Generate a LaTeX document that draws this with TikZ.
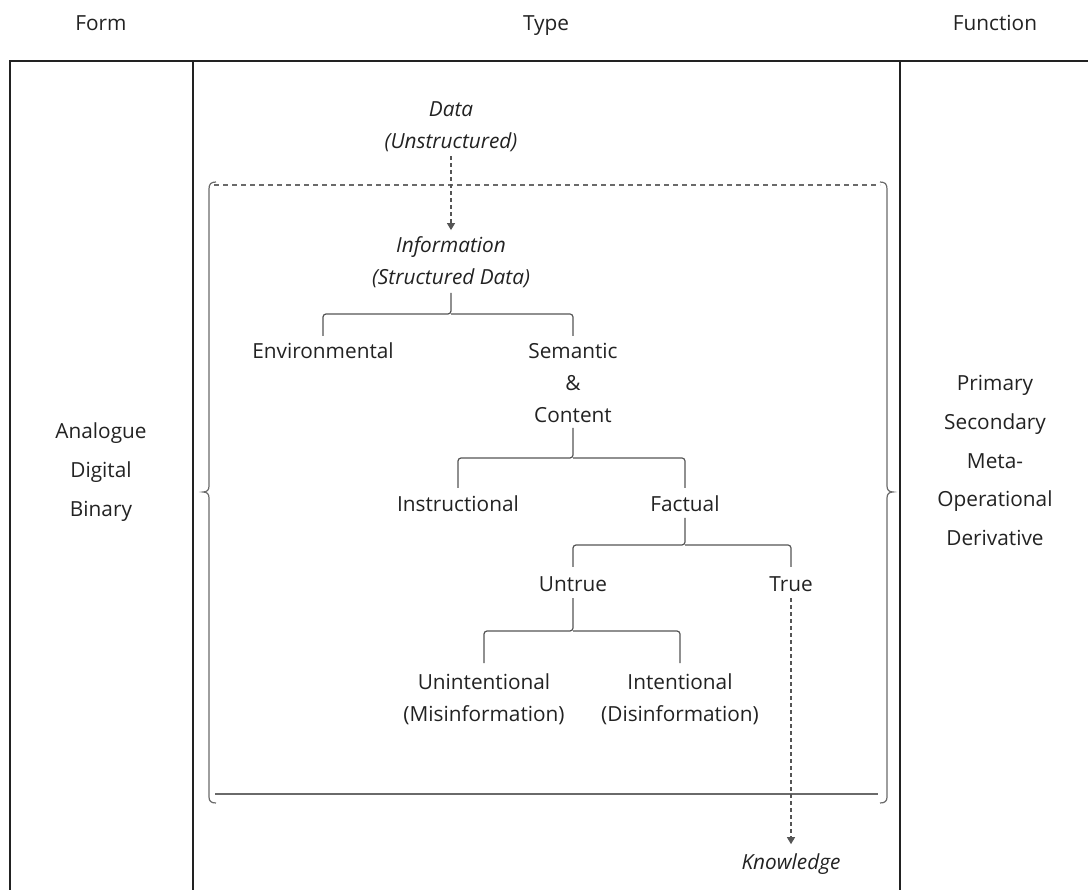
\documentclass[tikz,border=0pt]{standalone}
\usepackage{fontspec}
\setmainfont{Open Sans}
\usetikzlibrary{arrows.meta}
\definecolor{ink}{HTML}{222222}
\definecolor{wire}{HTML}{555555}
\definecolor{rim}{HTML}{6A6A6A}

\begin{document}
\begin{tikzpicture}[x=1pt,y=-1pt,
  every node/.style={inner sep=0pt, outer sep=0pt, anchor=base, align=center,
    text=ink, font=\fontsize{20.8}{32}\selectfont, yshift=-2pt},
  concept/.style={font=\fontsize{20.8}{32}\selectfont\itshape},
  frameline/.style={draw=ink, line width=2pt},
  branch/.style={draw=wire, line width=1.2pt, rounded corners=3pt},
  flow/.style={draw=wire, line width=1.2pt, dash pattern=on 4pt off 3pt,
    -{Triangle[length=7pt,width=8pt]}},
  scopeline/.style={draw=rim, line width=1.2pt},
  scopedash/.style={draw=rim, line width=1.2pt, dash pattern=on 5pt off 4pt},
]
\useasboundingbox (0,0) rectangle (1088,890);
\clip (0,0) rectangle (1088,890);

% column headings
\node (hform) at (101,29) {Form};
\node (htype) at (546,29) {Type};
\node (hfunc) at (995,29) {Function};

% table frame
\draw[frameline] (10,891) -- (10,61) -- (1090,61);
\draw[frameline] (193,61) -- (193,891);
\draw[frameline] (900,61) -- (900,891);

% form column
\node (analogue) at (101,437) {Analogue};
\node (digital)  at (101,476) {Digital};
\node (binary)   at (101,515) {Binary};

% function column
\node (primary)   at (995,389) {Primary};
\node (secondary) at (995,428) {Secondary};
\node (meta)      at (995,467) {Meta-};
\node (oper)      at (995,505) {Operational};
\node (deriv)     at (995,544) {Derivative};

% scope bracket around the information types
\draw[scopeline] (216,182) .. controls (211,182) and (209,184) .. (209,189)
  -- (209,486) .. controls (209,490) and (207,492) .. (203,492)
  .. controls (207,492) and (209,494) .. (209,498)
  -- (209,797) .. controls (209,801) and (211,803) .. (216,803);
\draw[scopeline] (880,182) .. controls (885,182) and (887,184) .. (887,189)
  -- (887,486) .. controls (887,490) and (889,492) .. (893,492)
  .. controls (889,492) and (887,494) .. (887,498)
  -- (887,797) .. controls (887,801) and (885,803) .. (880,803);
\draw[scopedash] (214,185) -- (880,185);
\draw[scopeline] (215,794) -- (878,794);

% type hierarchy (multi-line nodes sit on the baseline of their last line)
\node[concept] (data) at (451,147) {Data\\(Unstructured)};
\node[concept] (info) at (451,283) {Information\\(Structured Data)};
\node (env)   at (323,357) {Environmental};
\node (sem)   at (573,421) {Semantic\\\&\\Content};
\node (instr) at (458,510) {Instructional};
\node (fact)  at (685,510) {Factual};
\node (untrue) at (573,589) {Untrue};
\node (true)   at (791,589) {True};
\node (unint) at (484,719) {Unintentional\\(Misinformation)};
\node (inten) at (680,719) {Intentional\\(Disinformation)};
\node[concept] (know) at (791,867) {Knowledge};

% flows
\draw[flow, shorten <=4pt, shorten >=7pt] (data.south) -- (info.north);
\draw[flow, shorten <=7pt, shorten >=9pt] (true.south) -- (know.north);

% branches
\draw[branch] (env |- 0,336) |- (info |- 0,314) -- (info |- 0,293);
\draw[branch] (sem |- 0,336) |- (info |- 0,314);

\draw[branch] (instr |- 0,488) |- (sem |- 0,458) -- (sem |- 0,428);
\draw[branch] (fact |- 0,488) |- (sem |- 0,458);

\draw[branch] (untrue |- 0,567) |- (fact |- 0,545) -- (fact |- 0,518);
\draw[branch] (true |- 0,567) |- (fact |- 0,545);

\draw[branch] (unint |- 0,663) |- (untrue |- 0,631) -- (untrue |- 0,598);
\draw[branch] (inten |- 0,663) |- (untrue |- 0,631);
\end{tikzpicture}
\end{document}
